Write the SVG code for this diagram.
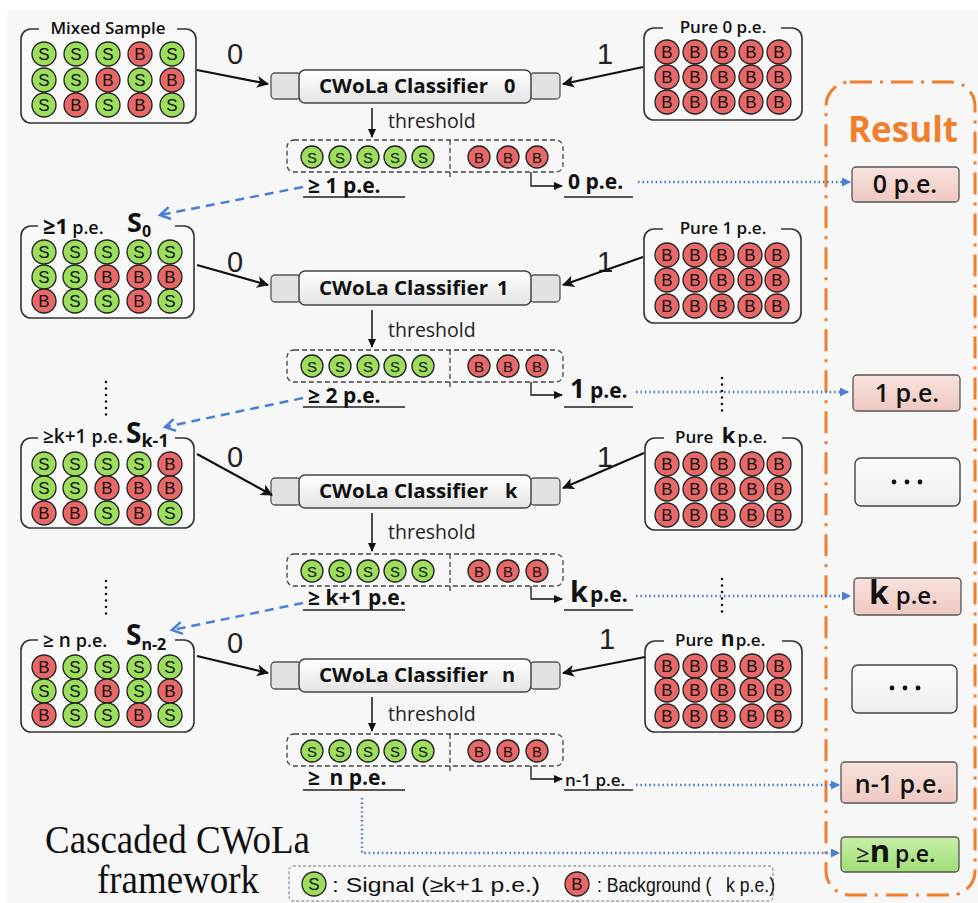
<svg xmlns="http://www.w3.org/2000/svg" width="978" height="903" viewBox="0 0 978 903">
<style>
.box{fill:#f9f9f9;stroke:#333;stroke-width:1.6}
.gap{fill:#f7f7f7}
.g{fill:#9ddf5c;stroke:#222;stroke-width:1.3}
.r{fill:#e86868;stroke:#222;stroke-width:1.3}
.ct{font-family:"Liberation Sans",Arial,sans-serif;font-size:17px;text-anchor:middle;fill:#111}
.cs{font-family:"Liberation Sans",Arial,sans-serif;font-size:15px;text-anchor:middle;fill:#111}
.ttl{font-family:"Open Sans",sans-serif;font-weight:600;font-size:17px;fill:#111}
.io{font-family:"Liberation Sans",Arial,sans-serif;font-size:29px;fill:#222;text-anchor:middle}
.arr{stroke:#111;stroke-width:2.2;fill:none;marker-end:url(#ah)}
.side{fill:#e2e2e2;stroke:#555;stroke-width:1.3}
.main{fill:url(#gclf);stroke:#444;stroke-width:1.5}
.clf{font-family:"Open Sans",sans-serif;font-weight:700;font-size:20px;fill:#111}
.thr{font-family:"Open Sans",sans-serif;font-size:19.5px;fill:#222}
.tarr{stroke:#111;stroke-width:1.5;fill:none;marker-end:url(#th)}
.dbox{fill:none;stroke:#444;stroke-width:1.3;stroke-dasharray:5 3}
.lbl{font-family:"Open Sans",sans-serif;font-weight:700;font-size:21px;fill:#111}
.ul{stroke:#222;stroke-width:1.5}
.elb{fill:none;stroke:#111;stroke-width:1.3;marker-end:url(#th)}
.bdash{stroke:#4a7fd6;stroke-width:2.5;stroke-dasharray:9 6;fill:none;marker-end:url(#bh)}
.bdot{stroke:#4a7fd6;stroke-width:2.4;stroke-dasharray:1.6 2.8;fill:none;marker-end:url(#bt)}
.vdot{stroke:#111;stroke-width:2.6;stroke-dasharray:0 6.5;stroke-linecap:round;fill:none}
.res{fill:url(#gpink);stroke:#555;stroke-width:1.3}
.rtx{font-family:"Open Sans",sans-serif;font-weight:600;font-size:25px;fill:#111;text-anchor:middle}
</style>
<defs>
<linearGradient id="gclf" x1="0" y1="0" x2="0" y2="1"><stop offset="0" stop-color="#ffffff"/><stop offset="1" stop-color="#e4e4e4"/></linearGradient>
<linearGradient id="gpink" x1="0" y1="0" x2="0" y2="1"><stop offset="0" stop-color="#f9e2dd"/><stop offset="1" stop-color="#efc8c1"/></linearGradient>
<linearGradient id="ggreen" x1="0" y1="0" x2="0" y2="1"><stop offset="0" stop-color="#c8f0a8"/><stop offset="1" stop-color="#9fdc75"/></linearGradient>
<linearGradient id="gwhite" x1="0" y1="0" x2="0" y2="1"><stop offset="0" stop-color="#fbfbfb"/><stop offset="1" stop-color="#efefef"/></linearGradient>
<marker id="ah" markerUnits="userSpaceOnUse" markerWidth="14" markerHeight="14" refX="11" refY="6" orient="auto"><path d="M0,0 L12,6 L0,12 L3,6 z" fill="#111"/></marker>
<marker id="th" markerUnits="userSpaceOnUse" markerWidth="10" markerHeight="10" refX="8" refY="4" orient="auto"><path d="M0,0 L9,4 L0,8 z" fill="#111"/></marker>
<marker id="bh" markerUnits="userSpaceOnUse" markerWidth="16" markerHeight="16" refX="11" refY="7" orient="auto" overflow="visible"><path d="M1,1 L11,7 L1,13" fill="none" stroke="#4a7fd6" stroke-width="2.5"/></marker>
<marker id="bt" markerUnits="userSpaceOnUse" markerWidth="10" markerHeight="10" refX="8" refY="4.5" orient="auto"><path d="M0,0 L9,4.5 L0,9 z" fill="#4a7fd6"/></marker>
</defs>
<rect x="0" y="0" width="978" height="903" fill="#ffffff"/>
<rect x="7" y="10" width="971" height="893" fill="#f7f7f7"/>

<!-- Result frame -->
<g id="result-frame">
<rect x="826" y="82" width="149" height="813" rx="24" fill="none" stroke="#ef7f2c" stroke-width="3" stroke-dasharray="22 8 3 8"/>
<text x="848" y="142" font-family="'Open Sans',sans-serif" font-weight="700" font-size="35" fill="#ef7f2c">Result</text>
</g>

<!-- Stage 0 -->
<g id="mixed-sample">
<rect class="box" x="21" y="29" width="175" height="94" rx="10"/>
<rect class="gap" x="39" y="24" width="138" height="10"/>
<text class="ttl" x="108" y="34" text-anchor="middle">Mixed Sample</text>
<circle class="g" cx="44" cy="54" r="12"/><text class="ct" x="44" y="60">S</text>
<circle class="g" cx="76" cy="54" r="12"/><text class="ct" x="76" y="60">S</text>
<circle class="g" cx="108" cy="54" r="12"/><text class="ct" x="108" y="60">S</text>
<circle class="r" cx="140" cy="54" r="12"/><text class="ct" x="140" y="60">B</text>
<circle class="g" cx="172" cy="54" r="12"/><text class="ct" x="172" y="60">S</text>
<circle class="g" cx="44" cy="80" r="12"/><text class="ct" x="44" y="86">S</text>
<circle class="g" cx="76" cy="80" r="12"/><text class="ct" x="76" y="86">S</text>
<circle class="r" cx="108" cy="80" r="12"/><text class="ct" x="108" y="86">B</text>
<circle class="g" cx="140" cy="80" r="12"/><text class="ct" x="140" y="86">S</text>
<circle class="r" cx="172" cy="80" r="12"/><text class="ct" x="172" y="86">B</text>
<circle class="g" cx="44" cy="105" r="12"/><text class="ct" x="44" y="111">S</text>
<circle class="r" cx="76" cy="105" r="12"/><text class="ct" x="76" y="111">B</text>
<circle class="g" cx="108" cy="105" r="12"/><text class="ct" x="108" y="111">S</text>
<circle class="r" cx="140" cy="105" r="12"/><text class="ct" x="140" y="111">B</text>
<circle class="g" cx="172" cy="105" r="12"/><text class="ct" x="172" y="111">S</text>
</g>
<g id="pure-0">
<rect class="box" x="644" y="28" width="158" height="92" rx="10"/>
<rect class="gap" x="663" y="23" width="118" height="10"/>
<text class="ttl" x="723" y="33" text-anchor="middle">Pure 0 p.e.</text>
<circle class="r" cx="667" cy="52" r="12"/><text class="ct" x="667" y="58">B</text>
<circle class="r" cx="695" cy="52" r="12"/><text class="ct" x="695" y="58">B</text>
<circle class="r" cx="723" cy="52" r="12"/><text class="ct" x="723" y="58">B</text>
<circle class="r" cx="751" cy="52" r="12"/><text class="ct" x="751" y="58">B</text>
<circle class="r" cx="779" cy="52" r="12"/><text class="ct" x="779" y="58">B</text>
<circle class="r" cx="667" cy="77" r="12"/><text class="ct" x="667" y="83">B</text>
<circle class="r" cx="695" cy="77" r="12"/><text class="ct" x="695" y="83">B</text>
<circle class="r" cx="723" cy="77" r="12"/><text class="ct" x="723" y="83">B</text>
<circle class="r" cx="751" cy="77" r="12"/><text class="ct" x="751" y="83">B</text>
<circle class="r" cx="779" cy="77" r="12"/><text class="ct" x="779" y="83">B</text>
<circle class="r" cx="667" cy="102" r="12"/><text class="ct" x="667" y="108">B</text>
<circle class="r" cx="695" cy="102" r="12"/><text class="ct" x="695" y="108">B</text>
<circle class="r" cx="723" cy="102" r="12"/><text class="ct" x="723" y="108">B</text>
<circle class="r" cx="751" cy="102" r="12"/><text class="ct" x="751" y="108">B</text>
<circle class="r" cx="779" cy="102" r="12"/><text class="ct" x="779" y="108">B</text>
</g>
<g id="classifier-0">
<rect class="side" x="271" y="73" width="30" height="26" rx="4"/>
<rect class="side" x="530" y="73" width="30" height="26" rx="4"/>
<rect class="main" x="299" y="70" width="232" height="33" rx="6"/>
<text class="clf" x="319" y="93" textLength="169" lengthAdjust="spacingAndGlyphs">CWoLa Classifier</text>
<text class="clf" x="504" y="93">0</text>
</g>
<g id="split-0">
<text class="thr" x="388" y="128">threshold</text>
<rect class="dbox" x="287" y="140" width="276" height="32" rx="7"/>
<line x1="450" y1="140" x2="450" y2="180" class="dbox"/>
<circle class="g" cx="312" cy="157" r="11"/><text class="cs" x="312" y="162.5">S</text>
<circle class="g" cx="340" cy="157" r="11"/><text class="cs" x="340" y="162.5">S</text>
<circle class="g" cx="368" cy="157" r="11"/><text class="cs" x="368" y="162.5">S</text>
<circle class="g" cx="395" cy="157" r="11"/><text class="cs" x="395" y="162.5">S</text>
<circle class="g" cx="423" cy="157" r="11"/><text class="cs" x="423" y="162.5">S</text>
<circle class="r" cx="479" cy="157" r="11"/><text class="cs" x="479" y="162.5">B</text>
<circle class="r" cx="508" cy="157" r="11"/><text class="cs" x="508" y="162.5">B</text>
<circle class="r" cx="537" cy="157" r="11"/><text class="cs" x="537" y="162.5">B</text>
<text class="lbl" x="308" y="193">≥ 1 p.e.</text>
<line class="ul" x1="303" y1="197" x2="405" y2="197"/>
<text class="lbl" x="568" y="189" font-size="23">0 p.e.</text>
<line class="ul" x1="564" y1="197" x2="633" y2="197"/>
</g>

<!-- Stage 1 -->
<g id="s0-sample">
<rect class="box" x="21" y="226" width="173" height="92" rx="10"/>
<rect class="gap" x="38" y="221" width="137" height="10"/>
<text x="43" y="234" font-family="'Open Sans',sans-serif" fill="#111"><tspan font-weight="700" font-size="22">≥1</tspan><tspan font-weight="600" font-size="18" dx="4">p.e.</tspan></text>
<text x="127" y="232" font-family="'Open Sans',sans-serif" font-weight="700" font-size="27" fill="#111">S<tspan font-size="16" dy="5">0</tspan></text>
<circle class="g" cx="44" cy="252" r="12"/><text class="ct" x="44" y="258">S</text>
<circle class="g" cx="75" cy="252" r="12"/><text class="ct" x="75" y="258">S</text>
<circle class="g" cx="107" cy="252" r="12"/><text class="ct" x="107" y="258">S</text>
<circle class="g" cx="139" cy="252" r="12"/><text class="ct" x="139" y="258">S</text>
<circle class="g" cx="170" cy="252" r="12"/><text class="ct" x="170" y="258">S</text>
<circle class="g" cx="44" cy="277" r="12"/><text class="ct" x="44" y="283">S</text>
<circle class="g" cx="75" cy="277" r="12"/><text class="ct" x="75" y="283">S</text>
<circle class="r" cx="107" cy="277" r="12"/><text class="ct" x="107" y="283">B</text>
<circle class="r" cx="139" cy="277" r="12"/><text class="ct" x="139" y="283">B</text>
<circle class="r" cx="170" cy="277" r="12"/><text class="ct" x="170" y="283">B</text>
<circle class="r" cx="44" cy="301" r="12"/><text class="ct" x="44" y="307">B</text>
<circle class="g" cx="75" cy="301" r="12"/><text class="ct" x="75" y="307">S</text>
<circle class="g" cx="107" cy="301" r="12"/><text class="ct" x="107" y="307">S</text>
<circle class="r" cx="139" cy="301" r="12"/><text class="ct" x="139" y="307">B</text>
<circle class="g" cx="170" cy="301" r="12"/><text class="ct" x="170" y="307">S</text>
</g>
<g id="pure-1">
<rect class="box" x="644" y="229" width="157" height="94" rx="10"/>
<rect class="gap" x="663" y="224" width="118" height="10"/>
<text class="ttl" x="723" y="234" text-anchor="middle">Pure 1 p.e.</text>
<circle class="r" cx="667" cy="255" r="12"/><text class="ct" x="667" y="261">B</text>
<circle class="r" cx="695" cy="255" r="12"/><text class="ct" x="695" y="261">B</text>
<circle class="r" cx="722" cy="255" r="12"/><text class="ct" x="722" y="261">B</text>
<circle class="r" cx="750" cy="255" r="12"/><text class="ct" x="750" y="261">B</text>
<circle class="r" cx="777" cy="255" r="12"/><text class="ct" x="777" y="261">B</text>
<circle class="r" cx="667" cy="280" r="12"/><text class="ct" x="667" y="286">B</text>
<circle class="r" cx="695" cy="280" r="12"/><text class="ct" x="695" y="286">B</text>
<circle class="r" cx="722" cy="280" r="12"/><text class="ct" x="722" y="286">B</text>
<circle class="r" cx="750" cy="280" r="12"/><text class="ct" x="750" y="286">B</text>
<circle class="r" cx="777" cy="280" r="12"/><text class="ct" x="777" y="286">B</text>
<circle class="r" cx="667" cy="306" r="12"/><text class="ct" x="667" y="312">B</text>
<circle class="r" cx="695" cy="306" r="12"/><text class="ct" x="695" y="312">B</text>
<circle class="r" cx="722" cy="306" r="12"/><text class="ct" x="722" y="312">B</text>
<circle class="r" cx="750" cy="306" r="12"/><text class="ct" x="750" y="312">B</text>
<circle class="r" cx="777" cy="306" r="12"/><text class="ct" x="777" y="312">B</text>
</g>
<g id="classifier-1">
<rect class="side" x="271" y="275" width="30" height="27" rx="4"/>
<rect class="side" x="530" y="275" width="30" height="27" rx="4"/>
<rect class="main" x="299" y="271" width="232" height="34" rx="6"/>
<text class="clf" x="319" y="295" textLength="169" lengthAdjust="spacingAndGlyphs">CWoLa Classifier</text>
<text class="clf" x="497" y="295">1</text>
</g>
<g id="split-1">
<text class="thr" x="388" y="337">threshold</text>
<rect class="dbox" x="287" y="350" width="276" height="32" rx="7"/>
<line x1="450" y1="350" x2="450" y2="390" class="dbox"/>
<circle class="g" cx="312" cy="366" r="11"/><text class="cs" x="312" y="371.5">S</text>
<circle class="g" cx="340" cy="366" r="11"/><text class="cs" x="340" y="371.5">S</text>
<circle class="g" cx="368" cy="366" r="11"/><text class="cs" x="368" y="371.5">S</text>
<circle class="g" cx="395" cy="366" r="11"/><text class="cs" x="395" y="371.5">S</text>
<circle class="g" cx="423" cy="366" r="11"/><text class="cs" x="423" y="371.5">S</text>
<circle class="r" cx="479" cy="366" r="11"/><text class="cs" x="479" y="371.5">B</text>
<circle class="r" cx="508" cy="366" r="11"/><text class="cs" x="508" y="371.5">B</text>
<circle class="r" cx="537" cy="366" r="11"/><text class="cs" x="537" y="371.5">B</text>
<text class="lbl" x="308" y="403">≥ 2 p.e.</text>
<line class="ul" x1="303" y1="407" x2="405" y2="407"/>
<text x="570" y="398" font-family="'Open Sans',sans-serif" font-weight="700" fill="#111"><tspan font-size="26">1</tspan><tspan font-size="21" dx="5">p.e.</tspan></text>
<line class="ul" x1="564" y1="407" x2="633" y2="407"/>
</g>

<!-- Stage k -->
<g id="sk-sample">
<rect class="box" x="21" y="438" width="173" height="90" rx="10"/>
<rect class="gap" x="38" y="433" width="137" height="10"/>
<text x="43" y="443" font-family="'Open Sans',sans-serif" font-weight="600" font-size="19" fill="#111">≥k+1 <tspan font-size="18">p.e.</tspan></text>
<text x="126" y="443" font-family="'Open Sans',sans-serif" font-weight="700" font-size="28" fill="#111">S<tspan font-size="18" dy="4">k-1</tspan></text>
<circle class="g" cx="44" cy="464" r="12"/><text class="ct" x="44" y="470">S</text>
<circle class="g" cx="75" cy="464" r="12"/><text class="ct" x="75" y="470">S</text>
<circle class="g" cx="107" cy="464" r="12"/><text class="ct" x="107" y="470">S</text>
<circle class="g" cx="139" cy="464" r="12"/><text class="ct" x="139" y="470">S</text>
<circle class="r" cx="170" cy="464" r="12"/><text class="ct" x="170" y="470">B</text>
<circle class="g" cx="44" cy="488" r="12"/><text class="ct" x="44" y="494">S</text>
<circle class="g" cx="75" cy="488" r="12"/><text class="ct" x="75" y="494">S</text>
<circle class="r" cx="107" cy="488" r="12"/><text class="ct" x="107" y="494">B</text>
<circle class="r" cx="139" cy="488" r="12"/><text class="ct" x="139" y="494">B</text>
<circle class="r" cx="170" cy="488" r="12"/><text class="ct" x="170" y="494">B</text>
<circle class="r" cx="44" cy="513" r="12"/><text class="ct" x="44" y="519">B</text>
<circle class="r" cx="75" cy="513" r="12"/><text class="ct" x="75" y="519">B</text>
<circle class="g" cx="107" cy="513" r="12"/><text class="ct" x="107" y="519">S</text>
<circle class="r" cx="139" cy="513" r="12"/><text class="ct" x="139" y="519">B</text>
<circle class="g" cx="170" cy="513" r="12"/><text class="ct" x="170" y="519">S</text>
</g>
<g id="pure-k">
<rect class="box" x="645" y="438" width="157" height="92" rx="10"/>
<rect class="gap" x="664" y="433" width="118" height="10"/>
<text class="ttl" x="675" y="443">Pure <tspan font-weight="700" font-size="22" dx="4">k</tspan><tspan dx="2">p.e.</tspan></text>
<circle class="r" cx="667" cy="464" r="12"/><text class="ct" x="667" y="470">B</text>
<circle class="r" cx="695" cy="464" r="12"/><text class="ct" x="695" y="470">B</text>
<circle class="r" cx="723" cy="464" r="12"/><text class="ct" x="723" y="470">B</text>
<circle class="r" cx="752" cy="464" r="12"/><text class="ct" x="752" y="470">B</text>
<circle class="r" cx="779" cy="464" r="12"/><text class="ct" x="779" y="470">B</text>
<circle class="r" cx="667" cy="489" r="12"/><text class="ct" x="667" y="495">B</text>
<circle class="r" cx="695" cy="489" r="12"/><text class="ct" x="695" y="495">B</text>
<circle class="r" cx="723" cy="489" r="12"/><text class="ct" x="723" y="495">B</text>
<circle class="r" cx="752" cy="489" r="12"/><text class="ct" x="752" y="495">B</text>
<circle class="r" cx="779" cy="489" r="12"/><text class="ct" x="779" y="495">B</text>
<circle class="r" cx="667" cy="515" r="12"/><text class="ct" x="667" y="521">B</text>
<circle class="r" cx="695" cy="515" r="12"/><text class="ct" x="695" y="521">B</text>
<circle class="r" cx="723" cy="515" r="12"/><text class="ct" x="723" y="521">B</text>
<circle class="r" cx="752" cy="515" r="12"/><text class="ct" x="752" y="521">B</text>
<circle class="r" cx="779" cy="515" r="12"/><text class="ct" x="779" y="521">B</text>
</g>
<g id="classifier-k">
<rect class="side" x="271" y="478" width="30" height="27" rx="4"/>
<rect class="side" x="530" y="478" width="30" height="27" rx="4"/>
<rect class="main" x="299" y="475" width="232" height="33" rx="6"/>
<text class="clf" x="319" y="498" textLength="169" lengthAdjust="spacingAndGlyphs">CWoLa Classifier</text>
<text class="clf" x="505" y="498">k</text>
</g>
<g id="split-k">
<text class="thr" x="388" y="539">threshold</text>
<rect class="dbox" x="287" y="554" width="276" height="32" rx="7"/>
<line x1="450" y1="554" x2="450" y2="594" class="dbox"/>
<circle class="g" cx="312" cy="571" r="11"/><text class="cs" x="312" y="576.5">S</text>
<circle class="g" cx="340" cy="571" r="11"/><text class="cs" x="340" y="576.5">S</text>
<circle class="g" cx="368" cy="571" r="11"/><text class="cs" x="368" y="576.5">S</text>
<circle class="g" cx="395" cy="571" r="11"/><text class="cs" x="395" y="576.5">S</text>
<circle class="g" cx="423" cy="571" r="11"/><text class="cs" x="423" y="576.5">S</text>
<circle class="r" cx="479" cy="571" r="11"/><text class="cs" x="479" y="576.5">B</text>
<circle class="r" cx="508" cy="571" r="11"/><text class="cs" x="508" y="576.5">B</text>
<circle class="r" cx="537" cy="571" r="11"/><text class="cs" x="537" y="576.5">B</text>
<text class="lbl" x="308" y="605">≥ k+1 p.e.</text>
<line class="ul" x1="303" y1="610" x2="405" y2="610"/>
<text x="570" y="602" font-family="'Open Sans',sans-serif" font-weight="700" fill="#111"><tspan font-size="29">k</tspan><tspan font-size="21" dx="2">p.e.</tspan></text>
<line class="ul" x1="564" y1="610" x2="633" y2="610"/>
</g>

<!-- Stage n -->
<g id="sn-sample">
<rect class="box" x="21" y="640" width="173" height="92" rx="10"/>
<rect class="gap" x="38" y="635" width="137" height="10"/>
<text x="43" y="647" font-family="'Open Sans',sans-serif" font-weight="600" font-size="19" fill="#111">≥ n <tspan font-size="18">p.e.</tspan></text>
<text x="126" y="645" font-family="'Open Sans',sans-serif" font-weight="700" font-size="28" fill="#111">S<tspan font-size="16" dy="5">n-2</tspan></text>
<circle class="r" cx="44" cy="667" r="12"/><text class="ct" x="44" y="673">B</text>
<circle class="g" cx="75" cy="667" r="12"/><text class="ct" x="75" y="673">S</text>
<circle class="g" cx="107" cy="667" r="12"/><text class="ct" x="107" y="673">S</text>
<circle class="g" cx="139" cy="667" r="12"/><text class="ct" x="139" y="673">S</text>
<circle class="g" cx="170" cy="667" r="12"/><text class="ct" x="170" y="673">S</text>
<circle class="g" cx="44" cy="691" r="12"/><text class="ct" x="44" y="697">S</text>
<circle class="g" cx="75" cy="691" r="12"/><text class="ct" x="75" y="697">S</text>
<circle class="r" cx="107" cy="691" r="12"/><text class="ct" x="107" y="697">B</text>
<circle class="g" cx="139" cy="691" r="12"/><text class="ct" x="139" y="697">S</text>
<circle class="r" cx="170" cy="691" r="12"/><text class="ct" x="170" y="697">B</text>
<circle class="r" cx="44" cy="715" r="12"/><text class="ct" x="44" y="721">B</text>
<circle class="g" cx="75" cy="715" r="12"/><text class="ct" x="75" y="721">S</text>
<circle class="g" cx="107" cy="715" r="12"/><text class="ct" x="107" y="721">S</text>
<circle class="r" cx="139" cy="715" r="12"/><text class="ct" x="139" y="721">B</text>
<circle class="g" cx="170" cy="715" r="12"/><text class="ct" x="170" y="721">S</text>
</g>
<g id="pure-n">
<rect class="box" x="645" y="641" width="157" height="91" rx="10"/>
<rect class="gap" x="664" y="636" width="118" height="10"/>
<text class="ttl" x="675" y="646">Pure <tspan font-weight="700" font-size="21" dx="3">n</tspan><tspan dx="1">p.e.</tspan></text>
<circle class="r" cx="667" cy="666" r="12"/><text class="ct" x="667" y="672">B</text>
<circle class="r" cx="695" cy="666" r="12"/><text class="ct" x="695" y="672">B</text>
<circle class="r" cx="723" cy="666" r="12"/><text class="ct" x="723" y="672">B</text>
<circle class="r" cx="752" cy="666" r="12"/><text class="ct" x="752" y="672">B</text>
<circle class="r" cx="779" cy="666" r="12"/><text class="ct" x="779" y="672">B</text>
<circle class="r" cx="667" cy="690" r="12"/><text class="ct" x="667" y="696">B</text>
<circle class="r" cx="695" cy="690" r="12"/><text class="ct" x="695" y="696">B</text>
<circle class="r" cx="723" cy="690" r="12"/><text class="ct" x="723" y="696">B</text>
<circle class="r" cx="752" cy="690" r="12"/><text class="ct" x="752" y="696">B</text>
<circle class="r" cx="779" cy="690" r="12"/><text class="ct" x="779" y="696">B</text>
<circle class="r" cx="667" cy="716" r="12"/><text class="ct" x="667" y="722">B</text>
<circle class="r" cx="695" cy="716" r="12"/><text class="ct" x="695" y="722">B</text>
<circle class="r" cx="723" cy="716" r="12"/><text class="ct" x="723" y="722">B</text>
<circle class="r" cx="752" cy="716" r="12"/><text class="ct" x="752" y="722">B</text>
<circle class="r" cx="779" cy="716" r="12"/><text class="ct" x="779" y="722">B</text>
</g>
<g id="classifier-n">
<rect class="side" x="271" y="662" width="30" height="27" rx="4"/>
<rect class="side" x="530" y="662" width="30" height="27" rx="4"/>
<rect class="main" x="299" y="659" width="232" height="33" rx="6"/>
<text class="clf" x="319" y="682" textLength="169" lengthAdjust="spacingAndGlyphs">CWoLa Classifier</text>
<text class="clf" x="502" y="682">n</text>
</g>
<g id="split-n">
<text class="thr" x="388" y="721">threshold</text>
<rect class="dbox" x="287" y="734" width="276" height="32" rx="7"/>
<line x1="450" y1="734" x2="450" y2="774" class="dbox"/>
<circle class="g" cx="312" cy="751" r="11"/><text class="cs" x="312" y="756.5">S</text>
<circle class="g" cx="340" cy="751" r="11"/><text class="cs" x="340" y="756.5">S</text>
<circle class="g" cx="368" cy="751" r="11"/><text class="cs" x="368" y="756.5">S</text>
<circle class="g" cx="395" cy="751" r="11"/><text class="cs" x="395" y="756.5">S</text>
<circle class="g" cx="423" cy="751" r="11"/><text class="cs" x="423" y="756.5">S</text>
<circle class="r" cx="479" cy="751" r="11"/><text class="cs" x="479" y="756.5">B</text>
<circle class="r" cx="508" cy="751" r="11"/><text class="cs" x="508" y="756.5">B</text>
<circle class="r" cx="537" cy="751" r="11"/><text class="cs" x="537" y="756.5">B</text>
<text class="lbl" x="308" y="785">≥ <tspan dx="4">n p.e.</tspan></text>
<line class="ul" x1="303" y1="790" x2="405" y2="790"/>
<text x="565" y="786" font-family="'Open Sans',sans-serif" font-weight="600" font-size="17" fill="#111">n-1 p.e.</text>
<line class="ul" x1="564" y1="790" x2="633" y2="790"/>
</g>

<!-- Results -->
<g id="res-0"><rect class="res" x="852" y="167" width="107" height="35" rx="4"/><text class="rtx" x="905" y="193">0 p.e.</text></g>
<g id="res-1"><rect class="res" x="853" y="375" width="107" height="36" rx="4"/><text class="rtx" x="907" y="402">1 p.e.</text></g>
<g id="res-dots-1"><rect x="855" y="458" width="105" height="48" rx="6" fill="url(#gwhite)" stroke="#444" stroke-width="1.4"/><circle cx="894" cy="482" r="2.4" fill="#111"/><circle cx="907" cy="482" r="2.4" fill="#111"/><circle cx="920" cy="482" r="2.4" fill="#111"/></g>
<g id="res-k"><rect class="res" x="854" y="578" width="107" height="37" rx="4"/><text x="869" y="604" font-family="'Open Sans',sans-serif" fill="#111"><tspan font-weight="700" font-size="32">k</tspan><tspan font-weight="600" font-size="24" dx="7">p.e.</tspan></text></g>
<g id="res-dots-2"><rect x="852" y="665" width="105" height="48" rx="6" fill="url(#gwhite)" stroke="#444" stroke-width="1.4"/><circle cx="892" cy="688" r="2.4" fill="#111"/><circle cx="905" cy="688" r="2.4" fill="#111"/><circle cx="918" cy="688" r="2.4" fill="#111"/></g>
<g id="res-n1"><rect class="res" x="841" y="762" width="116" height="41" rx="4"/><text class="rtx" x="899" y="793" font-size="27" font-weight="700">n-1 p.e.</text></g>
<g id="res-n"><rect x="841" y="837" width="118" height="35" rx="4" fill="url(#ggreen)" stroke="#555" stroke-width="1.3"/><text x="856" y="862" font-family="'Open Sans',sans-serif" fill="#111"><tspan font-size="24">≥</tspan><tspan font-weight="700" font-size="31">n</tspan><tspan font-weight="600" font-size="23" dx="5">p.e.</tspan></text></g>

<!-- Connectors -->
<g id="connectors">
<text class="io" x="235" y="64">0</text><text class="io" x="605" y="64">1</text>
<text class="io" x="235" y="272">0</text><text class="io" x="605" y="272">1</text>
<text class="io" x="235" y="467">0</text><text class="io" x="605" y="467">1</text>
<text class="io" x="235" y="653">0</text><text class="io" x="607" y="649">1</text>
<line class="arr" x1="197" y1="70" x2="268" y2="84"/>
<line class="arr" x1="643" y1="67" x2="563" y2="84"/>
<line class="arr" x1="197" y1="265" x2="268" y2="285"/>
<line class="arr" x1="643" y1="257" x2="563" y2="285"/>
<line class="arr" x1="197" y1="454" x2="272" y2="495"/>
<line class="arr" x1="644" y1="453" x2="563" y2="488"/>
<line class="arr" x1="197" y1="656" x2="268" y2="673"/>
<line class="arr" x1="645" y1="657" x2="563" y2="673"/>
<line class="tarr" x1="372" y1="108" x2="372" y2="137"/>
<line class="tarr" x1="372" y1="310" x2="372" y2="347"/>
<line class="tarr" x1="372" y1="513" x2="372" y2="551"/>
<line class="tarr" x1="372" y1="697" x2="372" y2="731"/>
<path class="elb" d="M531,172 V186 H562"/>
<path class="elb" d="M531,382 V395 H562"/>
<path class="elb" d="M531,586 V599 H562"/>
<path class="elb" d="M531,766 V779 H562"/>
<line class="bdash" x1="303" y1="187" x2="160" y2="215"/>
<line class="bdash" x1="303" y1="398" x2="165" y2="427"/>
<line class="bdash" x1="303" y1="603" x2="172" y2="630"/>
<line class="bdot" x1="638" y1="182" x2="850" y2="182"/>
<line class="bdot" x1="636" y1="392" x2="848" y2="392"/>
<line class="bdot" x1="636" y1="596" x2="850" y2="596"/>
<line class="bdot" x1="636" y1="785" x2="839" y2="785"/>
<path class="bdot" d="M362,798 V853 H839"/>
<line class="vdot" x1="106" y1="382" x2="106" y2="418"/>
<line class="vdot" x1="106" y1="581" x2="106" y2="617"/>
<line class="vdot" x1="722" y1="378" x2="722" y2="416"/>
<line class="vdot" x1="722" y1="579" x2="722" y2="617"/>
</g>

<!-- Title and legend -->
<g id="title">
<text x="45" y="853" font-family="'Liberation Serif','Times New Roman',serif" font-size="39" fill="#111" textLength="265" lengthAdjust="spacingAndGlyphs">Cascaded CWoLa</text>
<text x="97" y="893" font-family="'Liberation Serif','Times New Roman',serif" font-size="39" fill="#111" textLength="162" lengthAdjust="spacingAndGlyphs">framework</text>
</g>
<g id="legend">
<rect x="289" y="866" width="484" height="35" rx="4" fill="none" stroke="#777" stroke-width="1" stroke-dasharray="3 2"/>
<circle class="g" cx="314" cy="884" r="12"/><text class="ct" x="314" y="890">S</text>
<text x="332" y="892" font-family="'Liberation Sans',Arial,sans-serif" font-size="20" fill="#111" textLength="208" lengthAdjust="spacingAndGlyphs">: Signal (≥k+1 p.e.)</text>
<circle class="r" cx="577" cy="884" r="12"/><text class="ct" x="577" y="890">B</text>
<text x="597" y="892" font-family="'Liberation Sans',Arial,sans-serif" font-size="20" fill="#111" textLength="178" lengthAdjust="spacingAndGlyphs" xml:space="preserve">: Background (   k p.e.)</text>
</g>
</svg>
